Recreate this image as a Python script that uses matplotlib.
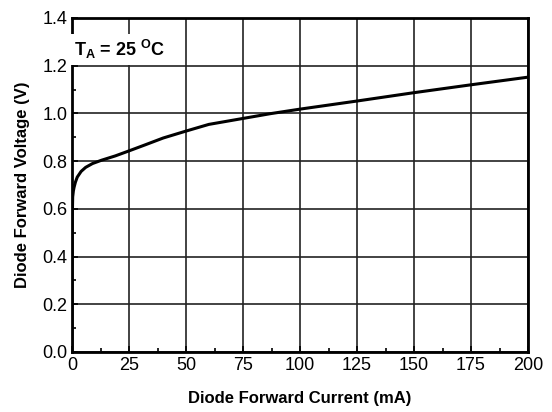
import numpy as np
import matplotlib
matplotlib.use("Agg")
import matplotlib.pyplot as plt
from matplotlib.ticker import MultipleLocator

plt.rcParams['font.family'] = ['Liberation Sans', 'DejaVu Sans']
plt.rcParams['mathtext.default'] = 'regular'

# forward current (mA) vs forward voltage (V)
current = [0, 0.05, 0.1, 0.3, 0.6, 0.9, 1.5, 2.3, 4, 6, 9, 13, 19, 25, 32, 40, 50, 60, 75, 87, 100, 125, 150, 175, 200]
voltage = [0, 0.30, 0.55, 0.65, 0.675, 0.69, 0.712, 0.733, 0.757, 0.774, 0.79, 0.804, 0.822, 0.843, 0.868, 0.897, 0.926, 0.954, 0.979, 0.999, 1.018, 1.052, 1.087, 1.12, 1.152]

fig = plt.figure(figsize=(5.52, 4.12), dpi=100)
ax = fig.add_axes([72/552, 60/412, 456/552, 334/412])

ax.plot(current, voltage, color='black', lw=2.2, zorder=3)

ax.set_xlim(0, 200)
ax.set_ylim(0, 1.4)
ax.xaxis.set_major_locator(MultipleLocator(25))
ax.xaxis.set_minor_locator(MultipleLocator(12.5))
ax.yaxis.set_major_locator(MultipleLocator(0.2))
ax.yaxis.set_minor_locator(MultipleLocator(0.1))
ax.yaxis.set_major_formatter(plt.FormatStrFormatter('%.1f'))
ax.grid(True, which='major', color='#222222', lw=1.2)
ax.tick_params(which='both', direction='in', labelsize=13, length=4, width=1.2)
ax.tick_params(which='minor', length=3)
for s in ax.spines.values():
    s.set_linewidth(2)

ax.set_xlabel('Diode Forward Current (mA)', fontsize=12, fontweight='bold', labelpad=12)
ax.set_ylabel('Diode Forward Voltage (V)', fontsize=12, fontweight='bold', labelpad=9)

ax.text(0.105, 0.905, 'T$_A$ = 25 $^O$C', transform=ax.transAxes, fontsize=13,
        fontweight='bold', ha='center', va='center',
        bbox=dict(facecolor='white', edgecolor='none', pad=3), zorder=4)

fig.savefig('out.png', dpi=100)
